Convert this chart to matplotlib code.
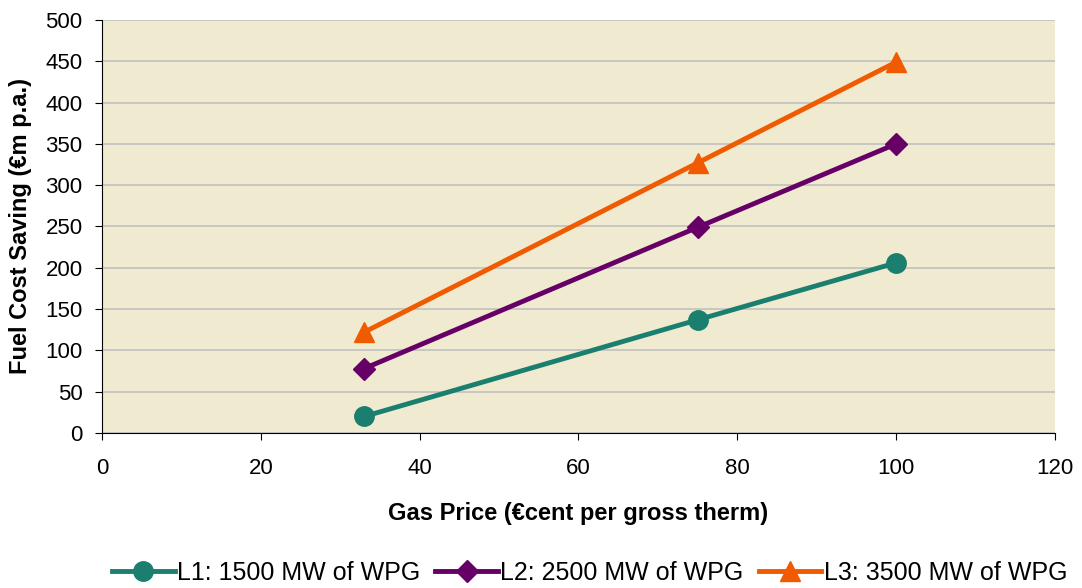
import numpy as np
import matplotlib.pyplot as plt

plt.rcParams['font.family'] = ['Liberation Sans', 'DejaVu Sans']

gas_price = [33, 75, 100]
l1 = [20, 137, 206]
l2 = [78, 249, 350]
l3 = [122, 327, 449]
labels = ["L1: 1500 MW of WPG", "L2: 2500 MW of WPG", "L3: 3500 MW of WPG"]

fig = plt.figure(figsize=(10.82, 5.88), dpi=100)
ax = fig.add_axes([0.0943, 0.2636, 0.8807, 0.7024])
ax.set_facecolor("#F0EBD0")

ax.plot(gas_price, l1, color="#1A7F6E", marker="o", markersize=14, linewidth=3.5, label=labels[0])
ax.plot(gas_price, l2, color="#660066", marker="D", markersize=11, linewidth=3.5, label=labels[1])
ax.plot(gas_price, l3, color="#F05A00", marker="^", markersize=15, linewidth=3.5, label=labels[2])

ax.set_xlim(0, 120)
ax.set_ylim(0, 500)
ax.set_xticks(np.arange(0, 121, 20))
ax.set_yticks(np.arange(0, 501, 50))
ax.tick_params(labelsize=16, direction="out", length=5, color="black")
ax.tick_params(axis="x", pad=13)
ax.tick_params(axis="y", pad=9)
ax.grid(axis="y", color="#C0C0C0", linewidth=1.2)
ax.set_axisbelow(True)
for s in ["top", "right"]:
    ax.spines[s].set_visible(False)

ax.set_xlabel("Gas Price (€cent per gross therm)", fontsize=17, fontweight="bold")
ax.set_ylabel("Fuel Cost Saving (€m p.a.)", fontsize=17, fontweight="bold")
ax.xaxis.set_label_coords(0.5, -0.168)
ax.yaxis.set_label_coords(-0.074, 0.5)

fig.legend(loc="center", bbox_to_anchor=(0.545, 0.026), ncol=3, frameon=False,
           fontsize=18, handlelength=2.5, handletextpad=0.1, columnspacing=0.6)

fig.savefig("out.png", dpi=100)
